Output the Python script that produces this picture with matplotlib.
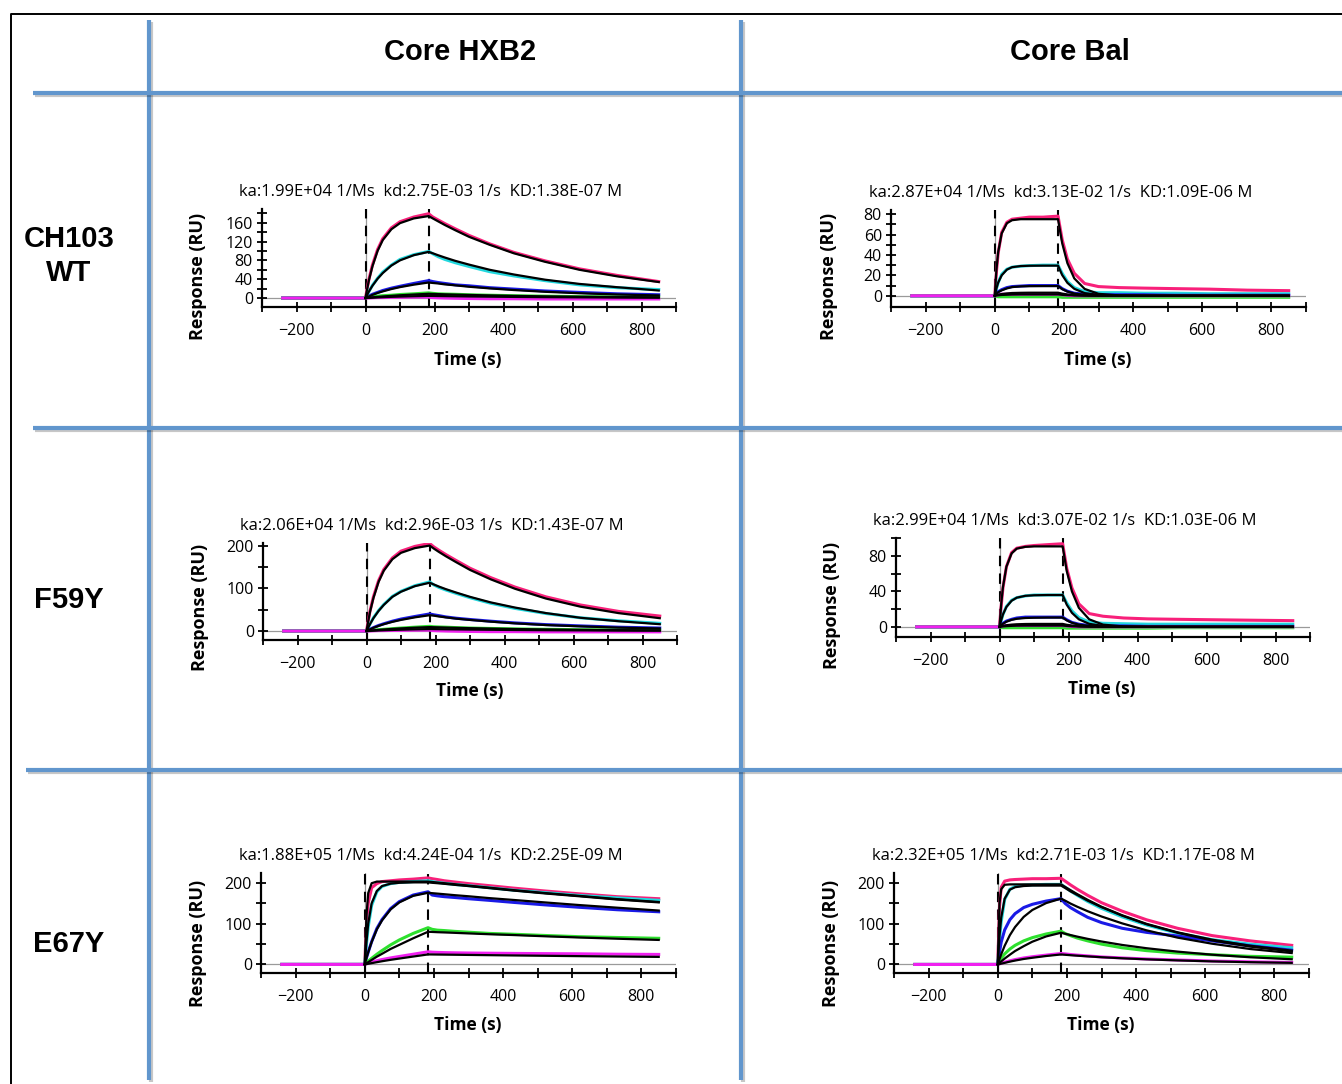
import matplotlib
matplotlib.use("Agg")
import matplotlib.pyplot as plt
import matplotlib.patheffects as pe

plt.rcParams["font.family"] = ["Open Sans", "DejaVu Sans"]

# sample times (s): pre-injection baseline, association, dissociation
T_BASE = [-240, -180, -120, -60]
T_ASSOC = [0, 5, 10, 20, 35, 50, 75, 100, 140, 183]
T_DISSOC = [195, 210, 230, 260, 300, 360, 430, 520, 620, 730, 850]
BASELINE = [0, 0, 0, 0]

ANALYTES = ["Core HXB2", "Core Bal"]
ANTIBODIES = ["CH103\nWT", "F59Y", "E67Y"]
TRACE_COLORS = ["#F8207A", "#22D8DE", "#1A1AE6", "#2EE02E", "#F020F0"]

# response (RU) per concentration, highest first; fit then measured
HXB2_WT_FIT = [
    [0, 20, 38, 67, 100, 123, 146, 159, 169, 174, 169, 163, 155, 144, 130, 113, 95, 77, 60, 46, 34],
    [0, 7, 14, 26, 41, 53, 69, 80, 91, 98, 95, 91, 86, 79, 71, 60, 50, 39, 30, 23, 16],
    [0, 1.7, 3.3, 6.7, 10.8, 14.1, 19.1, 23.2, 28.4, 33, 32, 31, 29, 27, 24, 20.5, 17, 13.3, 10.2, 7.6, 5.5],
    [0, 0.4, 0.8, 1.5, 2.5, 3.4, 4.7, 5.9, 7.5, 9, 8.7, 8.4, 7.9, 7.3, 6.6, 5.6, 4.6, 3.6, 2.8, 2.1, 1.5],
    [0, 0.2, 0.4, 0.8, 1.3, 1.8, 2.5, 3.1, 3.9, 4.6, 4.5, 4.3, 4.1, 3.8, 3.4, 2.9, 2.4, 1.9, 1.5, 1.1, 0.8],
]
HXB2_WT_DATA = [
    [0, 21, 40, 70, 103, 126, 149, 162, 172, 179, 172, 166, 158, 147, 133, 115, 97, 79, 62, 48, 35],
    [0, 7, 14, 27, 42, 55, 70, 82, 92, 99, 94, 88, 82, 75, 67, 56, 47, 37, 28, 22, 18],
    [0, 2, 4, 8, 12, 16, 21, 25, 31, 37, 35, 33, 31, 28, 26, 22, 19, 15, 12, 9, 7],
    [0, 1, 2, 3, 4, 5, 6, 7.5, 9, 11, 10, 9, 8.5, 8, 7, 6, 5, 4, 3, 2.5, 2],
    [0, 0, 0, 0.5, 1, 1, 1.5, 1.5, 2, 2, 1, 0.5, 0, -0.5, -1, -1.5, -1.5, -2, -2, -2, -2],
]
BAL_WT_FIT = [
    [0, 26, 43, 61, 71, 74, 75, 75, 75, 75, 51.5, 32, 17, 6.7, 1.9, 0.3, 0, 0, 0, 0, 0],
    [0, 7.4, 13, 20, 25.6, 28, 29.1, 29.4, 29.5, 29.5, 20.3, 12.7, 6.8, 2.6, 0.8, 0.1, 0, 0, 0, 0, 0],
    [0, 2, 3.5, 5.3, 7.2, 8.5, 9.2, 9.4, 9.5, 9.5, 6.5, 4.1, 2.2, 0.9, 0.3, 0, 0, 0, 0, 0, 0],
    [0, 0.6, 1.1, 1.7, 2.3, 2.7, 2.9, 3, 3, 3, 2.1, 1.3, 0.7, 0.3, 0.1, 0, 0, 0, 0, 0, 0],
    [0, 0.3, 0.5, 0.8, 1, 1.2, 1.3, 1.3, 1.3, 1.3, 0.9, 0.6, 0.3, 0.1, 0, 0, 0, 0, 0, 0, 0],
]
BAL_WT_DATA = [
    [0, 24, 42, 62, 72, 75, 76, 77, 77, 78, 55, 36, 22, 12, 9, 8, 7.5, 7, 6.5, 5.5, 5],
    [0, 7, 13, 21, 26, 28, 29, 29.5, 30, 30, 22, 14, 8, 4, 3, 3, 2.5, 2.5, 2, 2, 2],
    [0, 2, 4, 6, 8, 9, 9.5, 10, 10, 10, 7, 4.5, 2.5, 1.5, 1, 1, 1, 0.5, 0.5, 0.5, 0.5],
    [0, -0.5, -1, -1, -1, -1, -1, -1, -1, -1, -1.5, -1.5, -1.5, -1.5, -1.5, -1.5, -1.5, -1.5, -1.5, -1.5, -1.5],
    [0, 0.5, 1, 1.5, 1.5, 1.5, 1.5, 1.5, 1.5, 1.5, 1, 0.5, 0, 0, 0, 0, 0, 0, 0, 0, 0],
]
HXB2_F59Y_FIT = [
    [0, 23, 44, 77, 115, 141, 168, 183, 194, 200, 193, 185, 175, 161, 143, 121, 99, 76, 57, 42, 30],
    [0, 8, 16, 30, 47, 61, 80, 92, 105, 113, 109, 104, 98, 90, 80, 67, 55, 42, 31, 23, 16],
    [0, 2, 3.7, 7.5, 12, 16, 21.5, 26, 32, 37, 36, 34, 32, 29, 26, 22, 18, 14, 11, 8, 6],
    [0, 0.4, 0.8, 1.6, 2.6, 3.6, 5, 6.2, 7.8, 9.2, 8.9, 8.6, 8.1, 7.5, 6.7, 5.7, 4.7, 3.7, 2.8, 2.1, 1.5],
    [0, 0.2, 0.4, 0.8, 1.3, 1.8, 2.5, 3.1, 3.9, 4.6, 4.5, 4.3, 4.1, 3.8, 3.4, 2.9, 2.4, 1.9, 1.5, 1.1, 0.8],
]
HXB2_F59Y_DATA = [
    [0, 24, 46, 80, 118, 144, 171, 187, 198, 205, 197, 189, 179, 165, 147, 125, 103, 80, 61, 46, 35],
    [0, 8, 16, 31, 48, 62, 81, 93, 106, 115, 108, 102, 96, 88, 78, 65, 53, 41, 31, 24, 18],
    [0, 2, 4, 8, 13, 17, 23, 28, 34, 40, 38, 36, 33, 30, 27, 23, 19, 15, 12, 9, 7],
    [0, 0.5, 1, 2, 3, 4, 5.5, 7, 9, 11, 10, 9.5, 9, 8, 7, 6, 5, 4, 3, 2.5, 2],
    [0, 0, 0, 0.5, 1, 1, 1.5, 1.5, 2, 2, 1, 0.5, 0, -0.5, -1, -1.5, -1.5, -2, -2, -2, -2],
]
BAL_F59Y_FIT = [
    [0, 26, 45, 68, 83, 88.5, 90.5, 91, 91, 91, 63, 40, 21.5, 8.5, 2.5, 0.4, 0, 0, 0, 0, 0],
    [0, 7.6, 14, 22.5, 29.5, 33, 35.1, 35.7, 36, 36, 25, 15.8, 8.5, 3.4, 1, 0.2, 0, 0, 0, 0, 0],
    [0, 1.9, 3.5, 5.8, 7.9, 9.1, 10, 10.3, 10.5, 10.5, 7.3, 4.6, 2.5, 1, 0.3, 0, 0, 0, 0, 0, 0],
    [0, 0.6, 1.1, 1.8, 2.5, 2.9, 3.2, 3.3, 3.3, 3.3, 2.3, 1.5, 0.8, 0.3, 0.1, 0, 0, 0, 0, 0, 0],
    [0, 0.3, 0.5, 0.8, 1.1, 1.3, 1.4, 1.4, 1.4, 1.4, 1, 0.6, 0.3, 0.1, 0, 0, 0, 0, 0, 0, 0],
]
BAL_F59Y_DATA = [
    [0, 24, 44, 68, 84, 89, 91, 92, 93, 94, 66, 44, 26, 15, 12, 10, 9, 8.5, 8, 7.5, 7],
    [0, 7, 14, 23, 30, 33, 35, 36, 36, 36, 27, 18, 10.5, 5.5, 4, 3.5, 3, 3, 3, 3, 3],
    [0, 2, 4, 6.5, 8.5, 10, 11, 11, 11, 11, 8, 5, 3, 1.5, 1, 1, 0.5, 0.5, 0.5, 0.5, 0.5],
    [0, -0.5, -1, -1, -1, -1, -1, -1, -1, -1, -1.5, -1.5, -1.5, -1.5, -1.5, -1.5, -1.5, -1, -1, -1, -1],
    [0, 0.5, 1, 1.5, 1.5, 1.5, 1.5, 1.5, 1.5, 1.5, 1, 0.5, 0, 0, 0, 0, 0, 0, 0, 0, 0],
]
HXB2_E67Y_FIT = [
    [0, 120, 175, 199, 203, 203, 203, 203, 203, 203, 202, 200.7, 199, 196.5, 193, 188, 182, 175, 168, 160, 153],
    [0, 55, 100, 150, 180, 192, 198, 200, 201, 201, 200, 199, 197.5, 195, 192, 187, 181, 174, 167, 159, 152],
    [0, 16, 30, 55, 86, 108, 135, 152, 168, 175.5, 174.6, 173.5, 172, 169.7, 167, 162.5, 158, 152, 145.5, 139, 132],
    [0, 3, 5.5, 11, 19, 26, 38, 48, 64, 80, 79.6, 79, 78.4, 77.4, 76, 74, 72, 69, 66, 63, 60],
    [0, 0.8, 1.6, 3.2, 5.5, 7.8, 11.3, 14.4, 19.3, 24.5, 24.4, 24.2, 24, 23.7, 23.3, 22.7, 22, 21.2, 20.3, 19.4, 18.5],
]
HXB2_E67Y_DATA = [
    [0, 95, 150, 188, 198, 203, 205, 207, 209, 212, 210, 208, 205, 202, 198, 193, 187, 180, 173, 166, 161],
    [0, 50, 92, 145, 178, 191, 198, 201, 203, 205, 203, 201, 199, 196, 193, 188, 182, 176, 169, 163, 157],
    [0, 16, 30, 56, 88, 110, 137, 154, 170, 178, 170, 168, 166, 164, 161, 157, 152, 146, 140, 134, 129],
    [0, 4, 8, 15, 25, 34, 48, 60, 76, 90, 86, 84, 83, 81, 79, 76, 74, 71, 68, 66, 64],
    [0, 1.5, 3, 5.5, 9, 12, 16, 19.5, 25, 31, 30, 29.5, 29, 28.5, 28, 27.5, 27, 26.5, 26, 25, 24.5],
]
BAL_E67Y_FIT = [
    [0, 150, 185, 196, 197, 197, 197, 197, 197, 197, 190.7, 183, 173, 159, 142, 121, 100, 79, 61, 46, 34],
    [0, 70, 115, 162, 184, 190, 193, 194, 194, 194, 188, 180, 171, 157, 141, 120, 99, 78, 59, 44, 32],
    [0, 13, 25, 46, 72, 92, 117, 134, 151, 162, 157, 150, 142, 131, 118, 101, 84, 66, 51, 38, 28],
    [0, 4, 7.5, 14.5, 24, 33, 45, 56, 69, 78, 75.5, 72.4, 68.5, 63, 56.5, 48, 40, 31.6, 24, 17.7, 12.8],
    [0, 1, 2, 4, 7, 9.6, 13.5, 16.5, 20.8, 24.6, 23.8, 22.8, 21.6, 19.9, 17.8, 15.2, 12.6, 10, 7.6, 5.6, 4],
]
BAL_E67Y_DATA = [
    [0, 140, 190, 205, 208, 209, 210, 211, 211, 212, 205, 196, 185, 170, 152, 131, 110, 89, 71, 58, 47],
    [0, 60, 105, 160, 185, 192, 195, 196, 197, 197, 190, 181, 170, 155, 138, 117, 97, 77, 61, 50, 41],
    [0, 30, 55, 85, 110, 125, 140, 148, 156, 162, 150, 140, 130, 116, 103, 89, 79, 70, 58, 46, 35],
    [0, 8, 15, 26, 38, 47, 58, 66, 75, 82, 76, 71, 65, 58, 50, 41, 34, 28, 24, 20, 18],
    [0, 1.5, 3, 5.5, 9, 12, 16, 19, 23, 27, 26, 24.5, 23, 21, 18.5, 16, 13.5, 11, 8.5, 6.5, 5],
]

KINETICS = [
    "ka:1.99E+04 1/Ms  kd:2.75E-03 1/s  KD:1.38E-07 M",
    "ka:2.87E+04 1/Ms  kd:3.13E-02 1/s  KD:1.09E-06 M",
    "ka:2.06E+04 1/Ms  kd:2.96E-03 1/s  KD:1.43E-07 M",
    "ka:2.99E+04 1/Ms  kd:3.07E-02 1/s  KD:1.03E-06 M",
    "ka:1.88E+05 1/Ms  kd:4.24E-04 1/s  KD:2.25E-09 M",
    "ka:2.32E+05 1/Ms  kd:2.71E-03 1/s  KD:1.17E-08 M",
]

INJECTION_END = 183

W, H = 1342, 1084
fig = plt.figure(figsize=(W / 100, H / 100), dpi=100)
fig.patch.set_facecolor("white")

# table frame and blue grid, drawn in pixel space
bg = fig.add_axes([0, 0, 1, 1])
bg.set_xlim(0, W)
bg.set_ylim(H, 0)
bg.axis("off")
bg.plot([11, 11, W], [H, 14, 14], color="black", lw=1.4)
grid_kw = dict(color="#6196CD", lw=3.0, solid_capstyle="butt",
               path_effects=[pe.SimpleLineShadow(offset=(1.2, -1.2), alpha=0.22), pe.Normal()])
for x in (149, 741):
    bg.plot([x, x], [20, 1080], **grid_kw)
for y, x0 in ((93, 33), (428, 33), (770, 26)):
    bg.plot([x0, W], [y, y], **grid_kw)

for i, name in enumerate(ANALYTES):
    bg.text((460, 1070)[i], 52, name, ha="center", va="center", fontsize=21,
            fontweight="bold", family="Liberation Sans")
for name, y in zip(ANTIBODIES, (256, 600, 944)):
    bg.text(69, y, name, ha="center", va="center", fontsize=21, fontweight="bold",
            family="Liberation Sans", linespacing=1.3)

# panel boxes (left, top, right, bottom px), y limits, major / minor y ticks
PANEL_LAYOUT = [
    (HXB2_WT_FIT, HXB2_WT_DATA, (262, 209, 676, 307), (-19, 189), range(0, 161, 40), range(20, 181, 40)),
    (BAL_WT_FIT, BAL_WT_DATA, (891, 210, 1306, 307), (-11, 84), range(0, 81, 20), range(10, 81, 20)),
    (HXB2_F59Y_FIT, HXB2_F59Y_DATA, (263, 543, 677, 640), (-21, 206), range(0, 201, 100), range(50, 201, 100)),
    (BAL_F59Y_FIT, BAL_F59Y_DATA, (896, 538, 1310, 637), (-11.5, 100.5), range(0, 81, 40), range(20, 101, 40)),
    (HXB2_E67Y_FIT, HXB2_E67Y_DATA, (261, 873, 676, 973), (-21, 224), range(0, 201, 100), range(50, 201, 100)),
    (BAL_E67Y_FIT, BAL_E67Y_DATA, (894, 873, 1309, 973), (-21, 225), range(0, 201, 100), range(50, 201, 100)),
]
YLABEL_POS = [(198, 276), (829, 276), (200, 607), (832, 605), (198, 943), (831, 943)]
XLABEL_POS = [(468, 360), (1098, 360), (470, 691), (1102, 689), (468, 1025), (1101, 1025)]

t_fit = T_ASSOC + T_DISSOC
t_data = T_BASE + T_ASSOC + T_DISSOC

for k, (fits, data, box, ylim, ymaj, ymin) in enumerate(PANEL_LAYOUT):
    left, top, right, bottom = box
    ax = fig.add_axes([left / W, 1 - bottom / H, (right - left) / W, (bottom - top) / H])
    ax.set_xlim(-300, 900)
    ax.set_ylim(*ylim)
    ax.patch.set_alpha(0)

    ax.axhline(0, color="#9A9A9A", lw=0.9, zorder=1)
    ax.axvline(0, color="#9A9A9A", lw=0.9, zorder=1)
    for x in (0, INJECTION_END):
        ax.axvline(x, color="black", lw=1.5, dashes=(5, 3.5), zorder=1.5)

    for color, values in zip(TRACE_COLORS, data):
        ax.plot(t_data, BASELINE + values, color=color, lw=2.2, zorder=2)
    for values in fits:
        ax.plot(t_fit, values, color="black", lw=1.6, zorder=3)

    for side in ("top", "right"):
        ax.spines[side].set_visible(False)
    for side in ("left", "bottom"):
        ax.spines[side].set_linewidth(1.6)
    ax.set_xticks(range(-200, 801, 200))
    ax.set_xticks(list(range(-300, 901, 200)), minor=True)
    ax.set_yticks(list(ymaj))
    ax.set_yticks(list(ymin), minor=True)
    ax.tick_params(which="both", direction="inout", length=7, width=1.3, labelsize=11.5)
    ax.tick_params(axis="x", pad=8)
    ax.tick_params(axis="y", pad=3)

    ax.annotate(KINETICS[k], xy=(190, 1), xycoords=("data", "axes fraction"),
                xytext=(0, 12.5), textcoords="offset points",
                ha="center", va="center", fontsize=12)
    bg.text(*YLABEL_POS[k], "Response (RU)", rotation=90, ha="center", va="center",
            fontsize=13, fontweight="bold")
    bg.text(*XLABEL_POS[k], "Time (s)", ha="center", va="center",
            fontsize=12.5, fontweight="bold")

fig.savefig("out.png", dpi=100, facecolor="white")
